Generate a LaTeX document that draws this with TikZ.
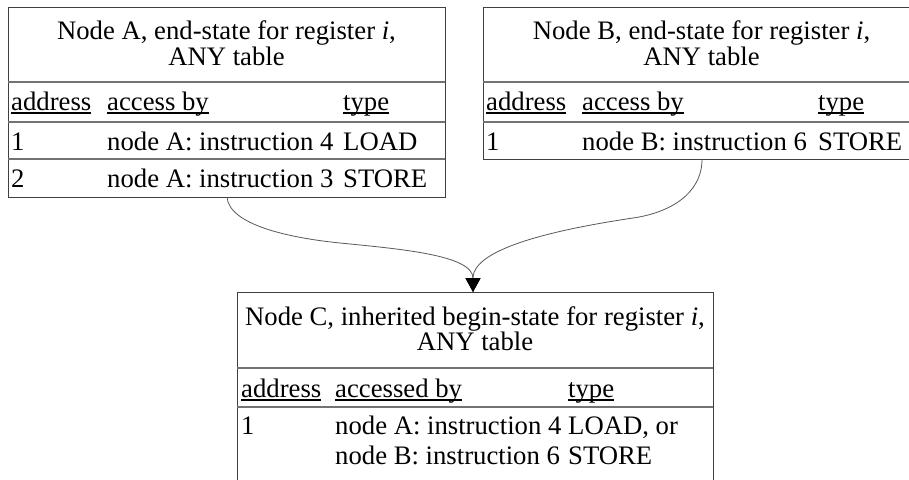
\documentclass[tikz,border=0pt]{standalone}
\usepackage{fontspec}
\setmainfont{Liberation Serif}
\usetikzlibrary{arrows.meta}
% underlined column heading, rule at a fixed depth below the baseline
\newcommand\hdrline[1]{\setbox0\hbox{#1}\rlap{\rule[-3.8pt]{\wd0}{1.7pt}}\box0}
\begin{document}
\begin{tikzpicture}[x=1pt,y=-1pt,
  frame/.style={draw=black!75, line width=1pt, inner sep=0pt, anchor=north west},
  rowsep/.style={draw=black!55, line width=1.2pt},
  txt/.style={anchor=base west, inner sep=0pt, font=\fontsize{26.7}{30}\selectfont},
  ctxt/.style={anchor=base, inner sep=0pt, font=\fontsize{26.7}{30}\selectfont},
  flow/.style={draw=black!65, line width=0.8pt, -{Triangle[length=14pt,width=15pt,color=black]}}]
\useasboundingbox[fill=white] (0,0) rectangle (909,479);

% ---- table of node A ----
\node[frame, minimum width=437pt, minimum height=190pt] (A) at (8,7) {};
\draw[rowsep] (8,82) -- (445,82);
\draw[rowsep] (8,122) -- (445,122);
\draw[rowsep] (8,159) -- (445,159);
\node[ctxt] (At1) at (226.5,39) {Node A, end-state for register \textit{i},};
\node[ctxt] (At2) at (226.5,65) {ANY table};
\node[txt] (Ah1) at (11,110) {\hdrline{address}};
\node[txt] (Ah2) at (107,110) {\hdrline{access by}};
\node[txt] (Ah3) at (343,110) {\hdrline{type}};
\node[txt] (Aa1) at (11,150) {1};
\node[txt] (Ab1) at (107,150) {node A: instruction 4};
\node[txt] (Ac1) at (343,150) {LOAD};
\node[txt] (Aa2) at (11,187) {2};
\node[txt] (Ab2) at (107,187) {node A: instruction 3};
\node[txt] (Ac2) at (343,187) {STORE};

% ---- table of node B ----
\node[frame, minimum width=437pt, minimum height=152pt] (B) at (483,7) {};
\draw[rowsep] (483,82) -- (920,82);
\draw[rowsep] (483,122) -- (920,122);
\node[ctxt] (Bt1) at (701.5,39) {Node B, end-state for register \textit{i},};
\node[ctxt] (Bt2) at (701.5,65) {ANY table};
\node[txt] (Bh1) at (486,110) {\hdrline{address}};
\node[txt] (Bh2) at (582,110) {\hdrline{access by}};
\node[txt] (Bh3) at (818,110) {\hdrline{type}};
\node[txt] (Ba1) at (486,150) {1};
\node[txt] (Bb1) at (582,150) {node B: instruction 6};
\node[txt] (Bc1) at (818,150) {STORE};

% ---- table of node C ----
\node[frame, minimum width=476pt, minimum height=210pt] (C) at (237,292) {};
\draw[rowsep] (237,368) -- (713,368);
\draw[rowsep] (237,407) -- (713,407);
\node[ctxt] (Ct1) at (475,325) {Node C, inherited begin-state for register \textit{i},};
\node[ctxt] (Ct2) at (475,350) {ANY table};
\node[txt] (Ch1) at (241,397) {\hdrline{address}};
\node[txt] (Ch2) at (335,397) {\hdrline{accessed by}};
\node[txt] (Ch3) at (568,397) {\hdrline{type}};
\node[txt] (Ca1) at (241,434) {1};
\node[txt] (Cb1) at (335,434) {node A: instruction 4};
\node[txt] (Cc1) at (568,434) {LOAD, or};
\node[txt] (Cb2) at (335,464) {node B: instruction 6};
\node[txt] (Cc2) at (568,464) {STORE};

% ---- merge of both end-states into C ----
\coordinate (Aout) at (227,197);
\coordinate (Bout) at (702,159);
\coordinate (Amid) at (340,243);
\coordinate (Bmid) at (633,218);
\coordinate (Cin) at (473,292);
\draw[flow] (Aout) .. controls (229,225) and (290,238) .. (Amid)
                   .. controls (400,249) and (473,255) .. (Cin);
\draw[flow] (Bout) .. controls (702,195) and (668,213) .. (Bmid)
                   .. controls (563,228.5) and (473,247) .. (Cin);
\end{tikzpicture}
\end{document}
